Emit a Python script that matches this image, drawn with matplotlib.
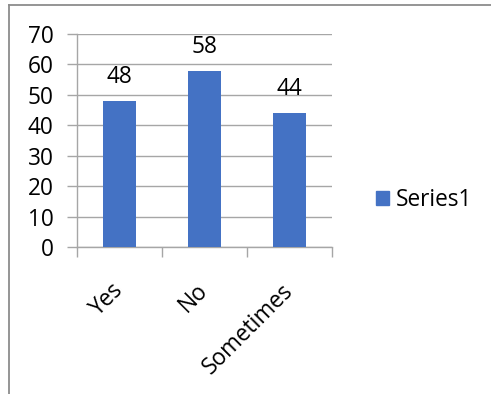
import matplotlib.pyplot as plt
from matplotlib.lines import Line2D
from matplotlib.patches import Patch
import numpy as np

categories = ["Yes", "No", "Sometimes"]
values = [48, 58, 44]
series_name = "Series1"
yticks = [0, 10, 20, 30, 40, 50, 60, 70]

BAR_COLOR = "#4472C4"
GRID_COLOR = "#A6A6A6"
FONT = "Open Sans"
FS = 16.3

W, H = 491, 394
fig = plt.figure(figsize=(W / 100, H / 100), dpi=100)
fig.patch.set_facecolor("white")

# outer chart border (only top and left visible)
fig.add_artist(Line2D([8.5 / W, 8.5 / W], [0, 1 - 4.5 / H], transform=fig.transFigure,
                      color="#8C8C8C", lw=1.3))
fig.add_artist(Line2D([8.5 / W, 1], [1 - 4.5 / H, 1 - 4.5 / H], transform=fig.transFigure,
                      color="#8C8C8C", lw=1.3))

ax = fig.add_axes([77 / W, 1 - 247 / H, (332 - 77) / W, (247 - 34) / H])
x = np.arange(len(categories))
bars = ax.bar(x, values, width=0.39, color=BAR_COLOR, zorder=3)

ax.set_xlim(-0.5, len(categories) - 0.5)
ax.set_ylim(0, 70)
ax.set_yticks(yticks)
ax.set_yticklabels([str(v) for v in yticks], fontsize=FS, family=FONT)
ax.yaxis.grid(True, color=GRID_COLOR, lw=1.0, zorder=0)
ax.tick_params(axis="y", length=7, color=GRID_COLOR, width=1.0, pad=10)

# category ticks on boundaries
ax.set_xticks(np.arange(-0.5, len(categories), 1.0))
ax.set_xticklabels([])
ax.tick_params(axis="x", length=7, color=GRID_COLOR, width=1.0)
for i, c in enumerate(categories):
    ax.annotate(c, xy=(i, 0), xycoords=("data", "axes fraction"),
                xytext=(-6, -23), textcoords="offset points",
                rotation=45, ha="right", va="top", rotation_mode="anchor",
                fontsize=FS, family=FONT)

for s in ["top", "right"]:
    ax.spines[s].set_visible(False)
for s in ["left", "bottom"]:
    ax.spines[s].set_color(GRID_COLOR)
    ax.spines[s].set_linewidth(1.0)

for b, v in zip(bars, values):
    ax.annotate(str(v), xy=(b.get_x() + b.get_width() / 2, v),
                xytext=(0, 8.5), textcoords="offset points",
                ha="center", va="bottom", fontsize=FS, family=FONT)

handle = Patch(color=BAR_COLOR)
fig.legend([handle], [series_name], loc="center left",
           bbox_to_anchor=(356 / W, 1 - 200 / H), frameon=False,
           prop={"family": FONT, "size": FS},
           handlelength=0.55, handleheight=0.55, handletextpad=0.3)

fig.savefig("out.png", dpi=100)
